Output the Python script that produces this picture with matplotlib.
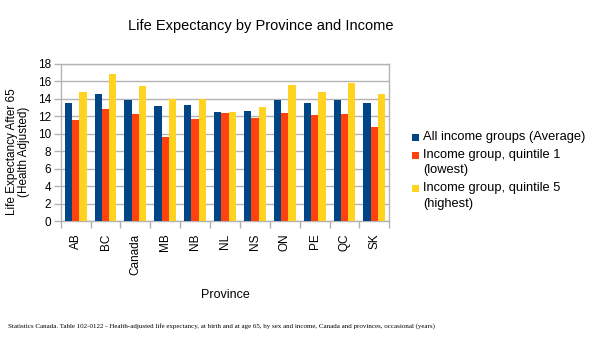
import matplotlib
matplotlib.use("Agg")
import matplotlib.pyplot as plt
from matplotlib.patches import Rectangle
import numpy as np

plt.rcParams['font.family'] = ['Liberation Sans', 'DejaVu Sans']

provinces = ["AB", "BC", "Canada", "MB", "NB", "NL", "NS", "ON", "PE", "QC", "SK"]
all_income = [13.57, 14.6, 13.87, 13.22, 13.34, 12.53, 12.61, 13.91, 13.57, 13.91, 13.57]
quintile1 = [11.58, 12.84, 12.3, 9.63, 11.69, 12.42, 11.85, 12.38, 12.15, 12.3, 10.78]
quintile5 = [14.83, 16.89, 15.51, 13.99, 13.99, 12.53, 13.07, 15.63, 14.79, 15.86, 14.6]
series_names = ["All income groups (Average)", "Income group, quintile 1\n(lowest)",
                "Income group, quintile 5\n(highest)"]
colors = ["#004586", "#ff420e", "#ffd320"]
yticks = [0, 2, 4, 6, 8, 10, 12, 14, 16, 18]

W, H = 605, 340
fig = plt.figure(figsize=(W / 100, H / 100), dpi=100)
ax = fig.add_axes([60.7 / W, (H - 221) / H, (389.3 - 60.7) / W, 157 / H])

x = np.arange(len(provinces))
bw = 0.245
for i, (vals, c, name) in enumerate(zip([all_income, quintile1, quintile5], colors, series_names)):
    ax.bar(x + (i - 1) * bw, vals, width=bw, color=c, label=name, zorder=3)

ax.set_xlim(-0.5, len(provinces) - 0.5)
ax.set_ylim(0, 18)
ax.set_yticks(yticks)
ax.yaxis.grid(True, color="#b3b3b3", linewidth=1, zorder=0)
for s in ax.spines.values():
    s.set_color("#b3b3b3")
    s.set_linewidth(1)

ax.set_xticks(x)
ax.set_xticklabels(provinces, rotation=90, fontsize=8.5)
ax.tick_params(axis='x', which='major', length=0, pad=9)
ax.set_xticks(np.arange(-0.5, len(provinces)), minor=True)
ax.tick_params(axis='x', which='minor', length=5, color="#b3b3b3", width=1)
ax.tick_params(axis='y', length=5, color="#b3b3b3", width=1, labelsize=8.5, pad=2)

ax.set_xlabel("Province", fontsize=9, labelpad=10)
ax.set_ylabel("Life Expectancy After 65\n(Health Adjusted)", fontsize=8.5, linespacing=1.0)
ax.yaxis.set_label_coords(-0.093, 0.44)

fig.text(261 / W, 1 - 26 / H, "Life Expectancy by Province and Income", fontsize=10.5,
         ha="center", va="center")

# legend drawn manually (marker aligned with first text line)
legend_first_y = [137, 155, 188.5]
line_step = 15.5
for name, c, y0 in zip(series_names, colors, legend_first_y):
    fig.patches.append(Rectangle((412 / W, 1 - (y0 + 3.5) / H), 7 / W, 7 / H,
                                 transform=fig.transFigure, facecolor=c, edgecolor='none'))
    for k, line in enumerate(name.split("\n")):
        fig.text(423 / W, 1 - (y0 + k * line_step) / H, line, fontsize=9.3,
                 ha="left", va="center")

fig.text(8 / W, 1 - 326 / H,
         "Statistics Canada. Table 102-0122 - Health-adjusted life expectancy, at birth and at age 65, by sex and income, Canada and provinces, occasional (years)",
         fontsize=5.0, family=['Liberation Serif', 'DejaVu Serif'], ha="left", va="center")

fig.savefig("out.png", dpi=100)
